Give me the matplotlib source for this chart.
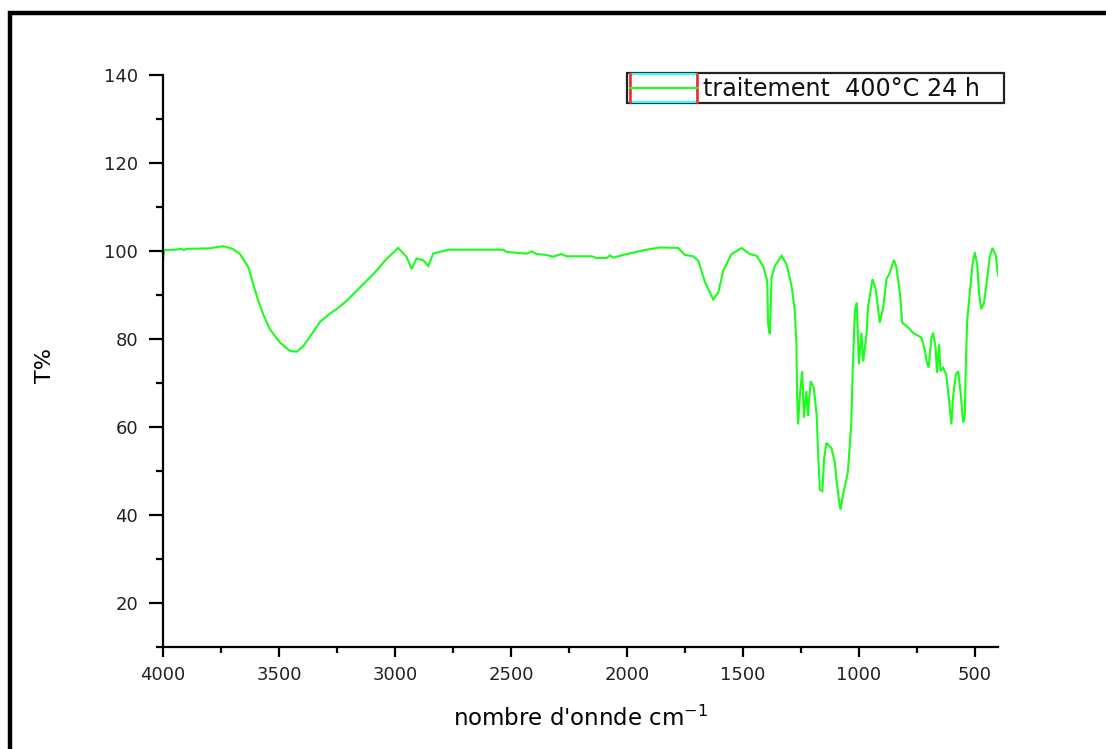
import matplotlib
matplotlib.use("Agg")
import matplotlib.pyplot as plt
from matplotlib.patches import Rectangle
from matplotlib.lines import Line2D
from matplotlib.ticker import MultipleLocator

# IR spectrum, sample treated 400°C for 24 h
wavenumber = [4000, 3995, 3950, 3920, 3910, 3900, 3800, 3741, 3700, 3668,
              3632, 3611, 3589, 3568, 3539, 3496, 3453, 3424, 3395, 3359,
              3323, 3280, 3251, 3208, 3151, 3094, 3036, 2986, 2950, 2928,
              2907, 2878, 2856, 2835, 2770, 2533, 2519, 2433, 2411, 2389,
              2347, 2318, 2282, 2260, 2152, 2131, 2088, 2073, 2059, 2001,
              1915, 1858, 1779, 1750, 1714, 1692, 1664, 1628, 1606, 1585,
              1549, 1506, 1470, 1441, 1413, 1395, 1391, 1384, 1376, 1362,
              1333, 1312, 1290, 1276, 1269, 1266, 1262, 1254, 1244, 1237,
              1226, 1219, 1208, 1194, 1182, 1175, 1168, 1157, 1150, 1140,
              1118, 1103, 1096, 1085, 1079, 1068, 1054, 1047, 1033, 1026,
              1017, 1009, 1000, 989, 981, 967, 960, 941, 927, 910,
              895, 881, 866, 849, 838, 823, 813, 787, 766, 730,
              716, 708, 699, 687, 680, 669, 663, 654, 648, 637,
              623, 612, 601, 594, 582, 572, 562, 550, 543, 539,
              533, 522, 510, 500, 489, 482, 472, 460, 448, 436,
              424, 410, 400]
transmittance = [97.7, 100.2, 100.3, 100.5, 100.2, 100.5, 100.6, 101.1, 100.5, 99.3,
                 96.3, 92.5, 88.7, 85.6, 82.2, 79.2, 77.3, 77.1, 78.4, 81.1,
                 83.9, 85.8, 86.8, 88.7, 91.7, 94.7, 98.2, 100.7, 98.7, 95.9,
                 98.3, 97.9, 96.6, 99.4, 100.3, 100.3, 99.8, 99.4, 99.9, 99.3,
                 99.1, 98.7, 99.3, 98.8, 98.8, 98.4, 98.4, 99.0, 98.5, 99.3,
                 100.3, 100.8, 100.7, 99.1, 98.8, 97.8, 93.0, 89.0, 90.5, 95.5,
                 99.3, 100.7, 99.3, 98.9, 96.6, 93.2, 83.3, 81.1, 94.0, 96.6,
                 98.9, 97.0, 92.1, 86.4, 78.8, 66.6, 60.6, 67.4, 72.7, 62.1,
                 68.2, 62.5, 70.4, 68.9, 62.8, 53.4, 45.8, 45.4, 52.6, 56.4,
                 55.2, 51.8, 47.7, 43.1, 41.2, 44.6, 48.0, 49.9, 60.4, 73.5,
                 86.4, 88.3, 74.2, 81.4, 74.9, 81.1, 87.5, 93.6, 91.3, 83.7,
                 87.1, 93.6, 95.1, 98.0, 96.3, 90.5, 83.7, 82.6, 81.4, 80.3,
                 77.6, 75.0, 73.5, 80.3, 81.4, 78.0, 72.3, 78.8, 72.7, 73.5,
                 71.9, 66.6, 60.6, 66.6, 71.9, 72.7, 68.2, 61.0, 62.8, 73.5,
                 84.1, 90.2, 97.0, 99.7, 96.6, 90.5, 86.8, 88.3, 93.2, 98.5,
                 100.7, 99.1, 94.4]

legend_label = "traitement  400°C 24 h"
x_ticks = [4000, 3500, 3000, 2500, 2000, 1500, 1000, 500]
y_ticks = [20, 40, 60, 80, 100, 120, 140]

W, H = 1106, 749
fig = plt.figure(figsize=(W / 100, H / 100), dpi=100)
fig.patch.set_facecolor("white")


def fx(px):
    return px / W


def fy(py):
    return 1 - py / H


ax = fig.add_axes([fx(163), fy(647), fx(998) - fx(163), fy(75) - fy(647)])
green = "#1aff1a"
ax.plot(wavenumber, transmittance, color=green, lw=1.5, solid_joinstyle="miter")

ax.set_xlim(4000, 400)
ax.set_ylim(10, 140)
ax.set_xticks(x_ticks)
ax.set_yticks(y_ticks)
ax.xaxis.set_minor_locator(MultipleLocator(250))
ax.yaxis.set_minor_locator(MultipleLocator(10))

for side in ("top", "right"):
    ax.spines[side].set_visible(False)
for side in ("left", "bottom"):
    ax.spines[side].set_linewidth(1.6)

ax.tick_params(axis="y", which="major", direction="out", length=10, width=1.6,
               pad=8, labelsize=13, labelcolor="#222222")
ax.tick_params(axis="y", which="minor", direction="out", length=5, width=1.6)
ax.tick_params(axis="x", which="major", direction="out", length=7, width=1.6,
               pad=7, labelsize=13, labelcolor="#222222")
ax.tick_params(axis="x", which="minor", direction="out", length=4.3, width=1.6)

ax.set_xlabel("nombre d'onnde cm$^{-1}$", fontsize=16.5, labelpad=15)
fig.text(fx(45), fy(365), "T%", rotation=90, fontsize=16, ha="center", va="center")

# Origin-style legend box
fig.add_artist(Rectangle((fx(627), fy(103)), fx(1004) - fx(627), fy(73) - fy(103),
                         transform=fig.transFigure, fill=False, ec="#222222", lw=1.6))
fig.add_artist(Rectangle((fx(630), fy(102)), fx(697) - fx(630), fy(74) - fy(102),
                         transform=fig.transFigure, fill=False, ec="#33ffff", lw=1.6))
for xr in (630, 697):
    fig.add_artist(Line2D([fx(xr), fx(xr)], [fy(102), fy(74)],
                          transform=fig.transFigure, color="#ff2020", lw=1.8))
fig.add_artist(Line2D([fx(630), fx(697)], [fy(88), fy(88)],
                      transform=fig.transFigure, color=green, lw=1.5))
fig.text(fx(703), fy(88.5), legend_label, fontsize=17.2, ha="left", va="center",
         color="#111111")

# outer frame
fig.add_artist(Rectangle((fx(9.5), -0.1), 1.2, fy(13) + 0.1,
                         transform=fig.transFigure, fill=False, ec="black", lw=3.2))

fig.savefig("out.png", dpi=100)
